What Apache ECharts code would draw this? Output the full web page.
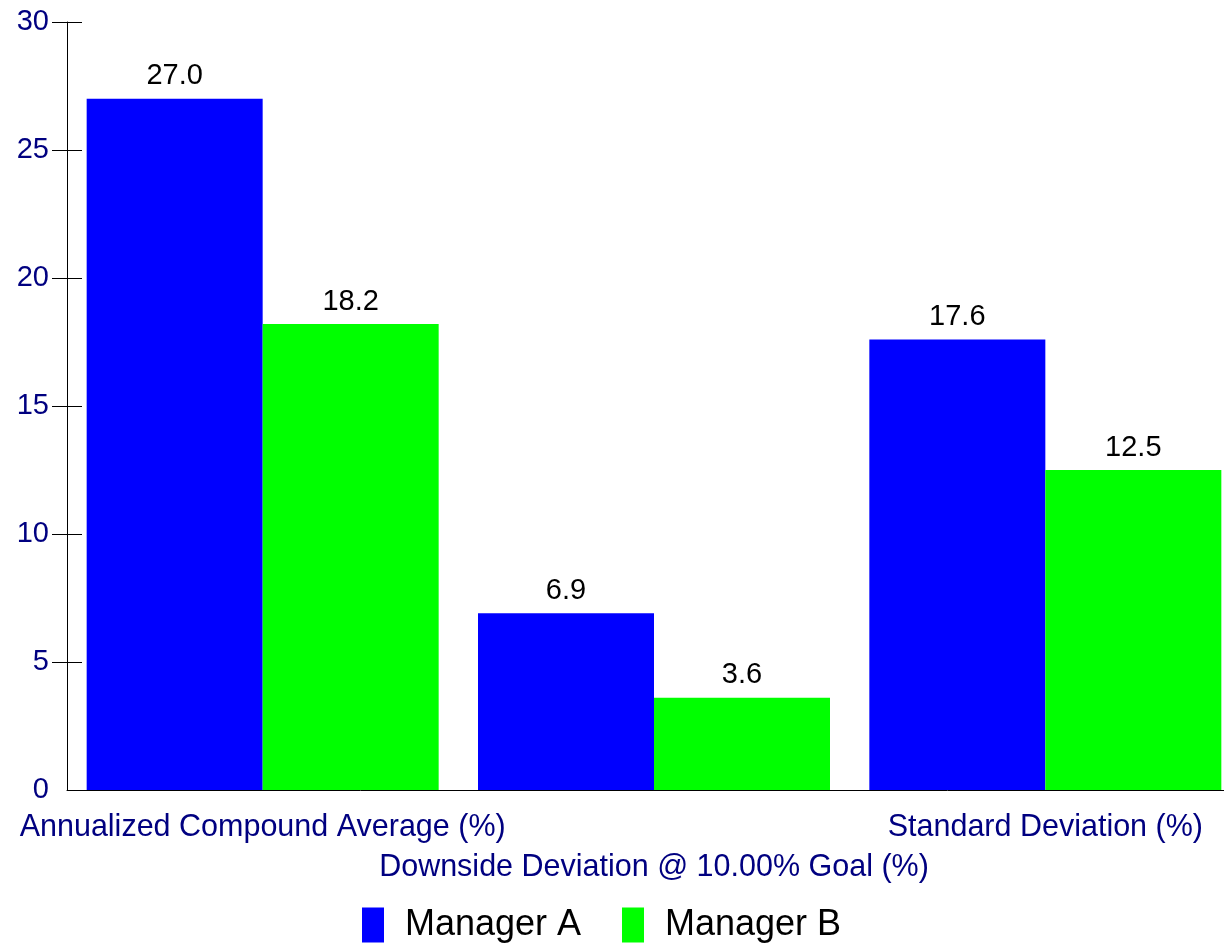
<!DOCTYPE html>
<html>
<head>
<meta charset="utf-8">
<script src="https://cdn.jsdelivr.net/npm/echarts@6/dist/echarts.min.js"></script>
<style>
html,body{margin:0;padding:0;background:#fff;overflow:hidden;}
#chart{width:1241px;height:952px;}
</style>
</head>
<body>
<div id="chart"></div>
<script>
const categories = ['Annualized Compound Average (%)', 'Downside Deviation @ 10.00% Goal (%)', 'Standard Deviation (%)'];
const seriesNames = ['Manager A', 'Manager B'];
const managerA = [27.0, 6.9, 17.6];
const managerB = [18.2, 3.6, 12.5];
const yTicks = [0, 5, 10, 15, 20, 25, 30];

const FONT = '"Liberation Sans", Arial, sans-serif';
const NAVY = '#000080';

const chart = echarts.init(document.getElementById('chart'), null, {renderer: 'canvas'});
const tickVals = yTicks.filter(v => v !== 0);

const labelCfg = {
  show: true,
  position: 'top',
  distance: 8,
  color: '#000',
  fontSize: 29,
  fontFamily: FONT,
  formatter: p => p.value.toFixed(1)
};

chart.setOption({
  animation: false,
  backgroundColor: '#fff',
  grid: {left: 67, right: 0, top: 22, bottom: 162, containLabel: false},
  legend: [
    {
      data: [seriesNames[0]], left: 362, top: 907, itemWidth: 22, itemHeight: 35,
      icon: 'rect', padding: 0,
      textStyle: {fontSize: 36, fontFamily: FONT, color: '#000', padding: [6, 0, 0, 16]}
    },
    {
      data: [seriesNames[1]], left: 622, top: 907, itemWidth: 22, itemHeight: 35,
      icon: 'rect', padding: 0,
      textStyle: {fontSize: 36, fontFamily: FONT, color: '#000', padding: [6, 0, 0, 16]}
    }
  ],
  xAxis: {
    type: 'category',
    data: categories,
    axisLine: {show: true, lineStyle: {color: '#000', width: 1}},
    axisTick: {show: false},
    axisLabel: {
      interval: 0,
      color: NAVY,
      fontSize: 30.5,
      fontFamily: FONT,
      margin: 18,
      lineHeight: 40,
      formatter: (v, i) => (i % 2 === 1 ? '\n' + v : v)
    },
    splitLine: {show: false}
  },
  yAxis: [
    {
      type: 'value',
      min: 0, max: 30, interval: 5,
      axisLine: {show: true, lineStyle: {color: '#000', width: 1}},
      axisTick: {show: true, length: 15, customValues: tickVals, lineStyle: {color: '#000'}},
      axisLabel: {color: NAVY, fontSize: 29, fontFamily: FONT, margin: 18, customValues: yTicks},
      splitLine: {show: false}
    },
    {
      type: 'value',
      position: 'left',
      min: 0, max: 30, interval: 5,
      axisLine: {show: false},
      axisTick: {show: true, inside: true, length: 15, customValues: tickVals, lineStyle: {color: '#000'}},
      axisLabel: {show: false},
      splitLine: {show: false}
    }
  ],
  series: [
    {
      name: seriesNames[0], type: 'bar', data: managerA, barWidth: 176, barGap: '0%',
      itemStyle: {color: '#0000ff'}, label: labelCfg
    },
    {
      name: seriesNames[1], type: 'bar', data: managerB, barWidth: 176, barGap: '0%',
      itemStyle: {color: '#00ff00'}, label: labelCfg
    }
  ]
});
</script>
</body>
</html>
